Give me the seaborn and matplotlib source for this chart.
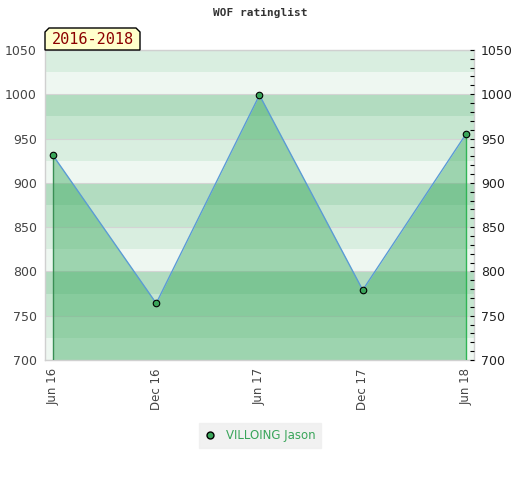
import numpy as np
import pandas as pd
import matplotlib
matplotlib.use("Agg")
import matplotlib.pyplot as plt
import seaborn as sns
from matplotlib.patches import Polygon
from matplotlib.ticker import MultipleLocator

# data
months = ["Jun 16", "Dec 16", "Jun 17", "Dec 17", "Jun 18"]
ratings = [931, 764, 999, 779, 955]
player = "VILLOING Jason"
period = "2016-2018"

# band colours repeating every 100 points (from bottom of each 100)
band_colors = ["#eef7f1", "#d9eee0", "#c6e6d0", "#b2dcc0"]
band_edges = list(range(700, 1050, 25))

df = pd.DataFrame({"x": range(len(months)), "rating": ratings, "player": player})

sns.set_style("white")
fig = plt.figure(figsize=(5.2, 4.8), dpi=100)
ax = fig.add_axes([0.0865, 0.25, 0.825, 0.646])

for i, lo in enumerate(band_edges):
    ax.axhspan(lo, lo + 25, color=band_colors[i % 4], lw=0, zorder=0)

for y in range(700, 1051, 50):
    ax.axhline(y, color="#d4d4d4", lw=0.8, zorder=1)

ax.fill_between(df["x"], 700, df["rating"], color="#3cab5f", alpha=0.45, lw=0, zorder=2)
ax.vlines(df["x"].iloc[0], 700, df["rating"].iloc[0], color="#3a8f55", lw=1, zorder=3)
ax.vlines(df["x"].iloc[-1], 700, df["rating"].iloc[-1], color="#2fb555", lw=1, zorder=3)

sns.lineplot(data=df, x="x", y="rating", ax=ax, color="#5b9bd5", lw=1,
             zorder=4, legend=False)
sns.scatterplot(data=df, x="x", y="rating", ax=ax, color="#3aa55a",
                edgecolor="black", linewidth=0.8, s=22, zorder=5, legend=False)

ax.set_xlim(-0.0775, 4.0775)
ax.set_ylim(700, 1050)
ax.set_xticks(df["x"])
ax.set_xticklabels(months, rotation=90, fontsize=8.5, color="#444444")
ax.set_xlabel("")
ax.set_ylabel("")
ax.yaxis.set_major_locator(MultipleLocator(50))
ax.tick_params(axis="y", labelsize=9, colors="#444444", length=0, pad=6)
ax.tick_params(axis="x", length=0, pad=6)
for s in ax.spines.values():
    s.set_color("#d0d0d0")
    s.set_linewidth(1)

ax2 = ax.twinx()
ax2.set_ylim(700, 1050)
ax2.yaxis.set_major_locator(MultipleLocator(50))
ax2.yaxis.set_minor_locator(MultipleLocator(10))
ax2.tick_params(axis="y", which="major", labelsize=9, colors="black",
                labelcolor="#222222", length=3, width=0.8, direction="in", pad=5)
ax2.tick_params(axis="y", which="minor", length=3, width=0.8, direction="in",
                colors="black")
for s in ax2.spines.values():
    s.set_visible(False)

fig.text(0.5, 0.972, "WOF ratinglist", ha="center", va="center",
         fontsize=8, fontweight="bold", family="DejaVu Sans Mono", color="#333333")

# period label box with chamfered top corners
x0, x1 = 45 / 520, 140 / 520
y0, y1 = 1 - 50 / 480, 1 - 28 / 480
c = 4 / 520
cy = 4 / 480
box = Polygon([[x0, y0], [x0, y1 - cy], [x0 + c, y1], [x1 - c, y1],
               [x1, y1 - cy], [x1, y0]], closed=True, transform=fig.transFigure,
              facecolor="#ffffcc", edgecolor="black", lw=1, zorder=10)
fig.patches.append(box)
fig.text((x0 + x1) / 2, (y0 + y1) / 2 - 0.002, period, ha="center", va="center",
         fontsize=11, family="DejaVu Sans Mono", color="#8b0000", zorder=11)

# legend
handle = plt.Line2D([], [], marker="o", ls="none", markerfacecolor="#3aa55a",
                    markeredgecolor="black", markersize=5)
leg = fig.legend([handle], [player], loc="center", bbox_to_anchor=(0.5, 0.092),
                 frameon=True, fontsize=8.5, handlelength=1, handletextpad=0.8,
                 borderpad=0.5, fancybox=False)
leg.get_frame().set_facecolor("#eeeeee")
leg.get_frame().set_edgecolor("#eeeeee")
for t in leg.get_texts():
    t.set_color("#3aa55a")

fig.savefig("out.png", dpi=100)
